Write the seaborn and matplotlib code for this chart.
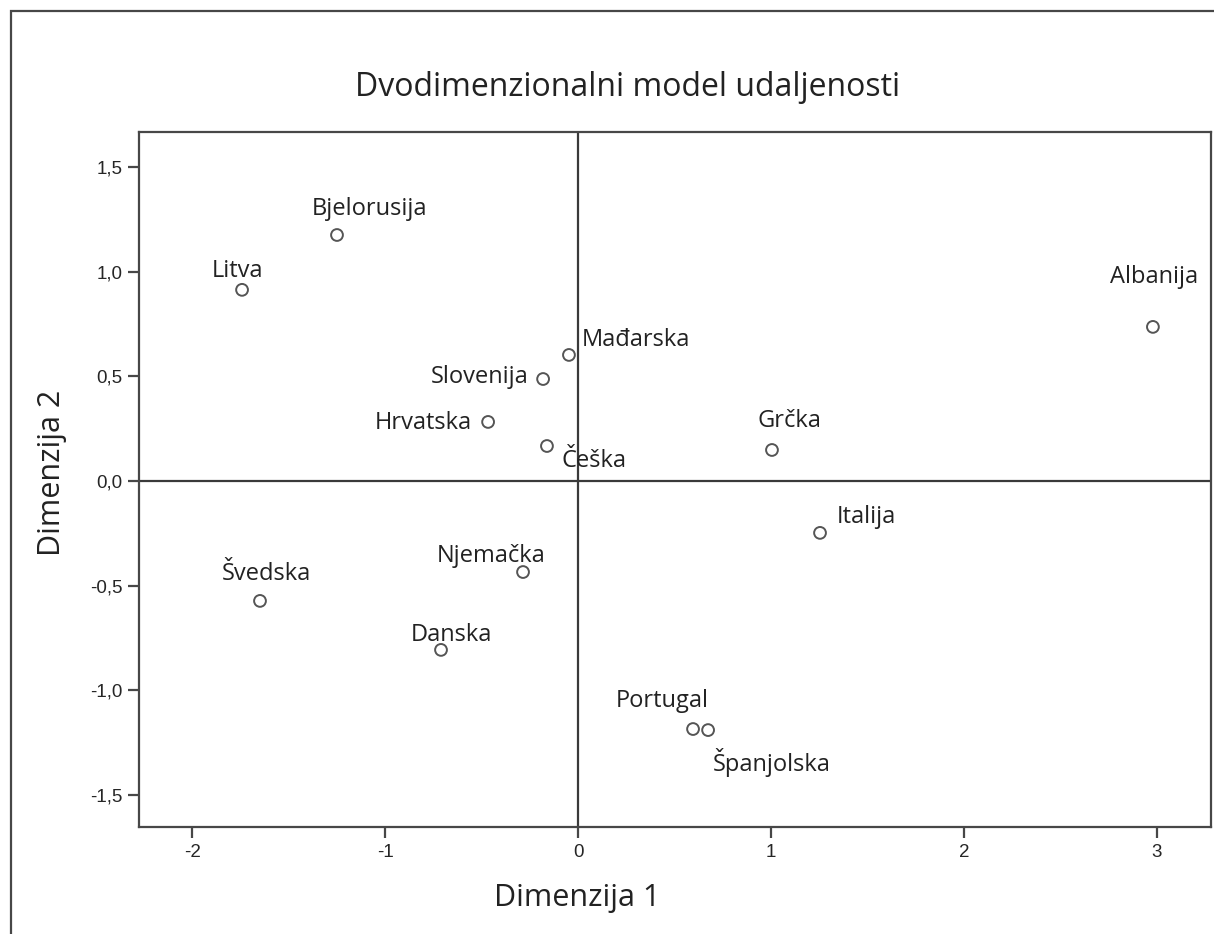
import matplotlib
matplotlib.use("Agg")
import matplotlib.pyplot as plt
from matplotlib.patches import Rectangle
import seaborn as sns
import pandas as pd

# Two-dimensional MDS solution: coordinates per country
countries = ["Bjelorusija", "Litva", "Albanija", "Mađarska", "Slovenija",
             "Hrvatska", "Češka", "Grčka", "Italija", "Švedska",
             "Njemačka", "Danska", "Portugal", "Španjolska"]
dim1 = [-1.249, -1.741, 2.979, -0.047, -0.181, -0.466, -0.161, 1.005,
        1.254, -1.648, -0.285, -0.710, 0.596, 0.674]
dim2 = [1.175, 0.913, 0.736, 0.602, 0.487, 0.282, 0.167, 0.148,
        -0.248, -0.573, -0.435, -0.807, -1.185, -1.190]

x_ticks = [-2, -1, 0, 1, 2, 3]
y_ticks = [-1.5, -1.0, -0.5, 0.0, 0.5, 1.0, 1.5]
y_tick_labels = ["-1,5", "-1,0", "-0,5", "0,0", "0,5", "1,0", "1,5"]

# label placement (offset in pixels from the point, horizontal alignment)
label_pos = {
    "Bjelorusija": (-25, 20, "left"),
    "Litva": (-30, 13, "left"),
    "Albanija": (-43, 44, "left"),
    "Mađarska": (13, 9, "left"),
    "Slovenija": (-15, -4, "right"),
    "Hrvatska": (-16, -7, "right"),
    "Češka": (15, -21, "left"),
    "Grčka": (-14, 23, "left"),
    "Italija": (17, 10, "left"),
    "Švedska": (-38, 21, "left"),
    "Njemačka": (-86, 10, "left"),
    "Danska": (-30, 9, "left"),
    "Portugal": (-77, 22, "left"),
    "Španjolska": (5, -41, "left"),
}

df = pd.DataFrame({"country": countries, "dim1": dim1, "dim2": dim2})

sns.set_style("white")
plt.rcParams["font.family"] = ["Open Sans", "DejaVu Sans"]

W, H = 1214, 934
fig = plt.figure(figsize=(W / 100, H / 100), dpi=100)
ax = fig.add_axes([139 / W, 1 - 827 / H, (1211 - 139) / W, (827 - 132) / H])

frame_col = "#474747"
text_col = "#222222"

# reference lines through the origin
ax.axhline(0, color="#3a3a3a", lw=1.6, zorder=1)
ax.axvline(0, color="#3a3a3a", lw=1.6, zorder=1)

sns.scatterplot(data=df, x="dim1", y="dim2", ax=ax, marker="o", s=72,
                facecolors="none", edgecolor="#555555", linewidth=1.4,
                zorder=3)

for name, x, y in zip(countries, dim1, dim2):
    dx, dy, ha = label_pos[name]
    ax.annotate(name, (x, y), xytext=(dx, dy), textcoords="offset pixels",
                ha=ha, va="baseline", fontsize=17, color=text_col, zorder=4)

ax.set_xlim(-2.275, 3.28)
ax.set_ylim(-1.653, 1.667)
ax.set_xticks(x_ticks)
ax.set_xticklabels([str(t) for t in x_ticks])
ax.set_yticks(y_ticks)
ax.set_yticklabels(y_tick_labels)

for lab in ax.get_xticklabels() + ax.get_yticklabels():
    lab.set_family(["Liberation Sans", "DejaVu Sans"])
    lab.set_fontsize(13.5)
    lab.set_color("#262626")

ax.tick_params(axis="both", direction="out", length=8, width=1.6,
               color=frame_col, left=True, bottom=True, pad=4)

for side in ["left", "right", "top", "bottom"]:
    ax.spines[side].set_visible(True)
    ax.spines[side].set_color(frame_col)
    ax.spines[side].set_linewidth(1.6)

ax.set_xlabel("Dimenzija 1", fontsize=22, color=text_col, labelpad=16)
ax.set_ylabel("Dimenzija 2", fontsize=22, color=text_col, labelpad=14)
# axis titles sit over the origin line / slightly above the plot centre
ax.xaxis.set_label_coords((577 - 139) / (1211 - 139), -0.0)
ax.xaxis.label.set_va("center")
ax.xaxis.label.set_position(((577 - 139) / (1211 - 139), 0))
ax.xaxis.set_label_coords((577 - 139) / (1211 - 139), -(898 - 827) / (827 - 132))
ax.yaxis.set_label_coords(-(139 - 52) / (1211 - 139), (827 - 473) / (827 - 132))
ax.yaxis.label.set_va("center")

fig.text(628 / W, 1 - 87 / H, "Dvodimenzionalni model udaljenosti",
         ha="center", va="center", fontsize=23, color=text_col)

# outer chart frame
fig.add_artist(Rectangle((11 / W, -0.2), 1.5, 1.2 - 11 / H,
                         transform=fig.transFigure, fill=False,
                         edgecolor=frame_col, linewidth=1.6))

fig.savefig("out.png", dpi=100)
